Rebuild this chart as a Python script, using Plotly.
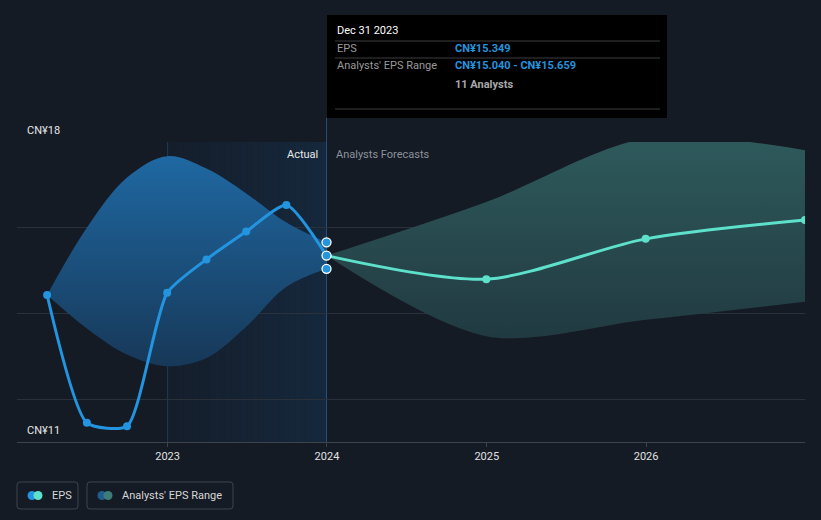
import datetime as dt
import plotly.graph_objects as go

# ---------------- data ----------------
actual_dates = ["2022-03-31", "2022-06-30", "2022-09-30", "2022-12-31",
                "2023-03-31", "2023-06-30", "2023-09-30", "2023-12-31"]
actual_eps = [14.43, 11.45, 11.37, 14.48, 15.26, 15.91, 16.53, 15.349]
past_range_high = [14.43, 16.00, 17.17, 17.67, 17.38, 16.80, 16.12, 15.659]
past_range_low = [14.43, 13.65, 13.04, 12.77, 12.96, 13.69, 14.62, 15.040]

forecast_dates = ["2023-12-31", "2024-12-31", "2025-12-31", "2026-12-31"]
forecast_eps = [15.349, 14.80, 15.74, 16.18]
forecast_high = [15.349, 16.60, 18.08, 17.81]
forecast_low = [15.349, 13.47, 13.85, 14.27]

now_date = "2023-12-31"
now_range = [15.659, 15.349, 15.040]

tick_vals = ["2023-01-01", "2024-01-01", "2025-01-01", "2026-01-01"]
tick_text = ["2023", "2024", "2025", "2026"]
y_labels = {18: "CN¥18", 11: "CN¥11"}

# ---------------- layout helpers ----------------
W, H = 821, 520
ML, MR, MT, MB = 17, 16, 142, 78
PW, PH = W - ML - MR, H - MT - MB


def px(x):
    return (x - ML) / PW


def py(y):
    return (H - MB - y) / PH


BG = "#151b25"
BLUE = "#2394df"
TEAL = "#5de1cb"
FONT = "Roboto"

fig = go.Figure()

# past range band
fig.add_trace(go.Scatter(x=actual_dates, y=past_range_high, mode="lines",
                         line=dict(width=0, shape="spline", smoothing=1.0),
                         hoverinfo="skip", showlegend=False))
fig.add_trace(go.Scatter(x=actual_dates, y=past_range_low, mode="lines",
                         line=dict(width=0, shape="spline", smoothing=1.0),
                         fill="tonexty",
                         fillgradient=dict(type="vertical",
                                           colorscale=[[0, "#173858"], [1, "#1f68a2"]]),
                         hoverinfo="skip", showlegend=False))
# forecast range band
fig.add_trace(go.Scatter(x=forecast_dates, y=forecast_high, mode="lines",
                         line=dict(width=0, shape="spline", smoothing=0.9),
                         hoverinfo="skip", showlegend=False))
fig.add_trace(go.Scatter(x=forecast_dates, y=forecast_low, mode="lines",
                         line=dict(width=0, shape="spline", smoothing=0.9),
                         fill="tonexty",
                         fillgradient=dict(type="vertical",
                                           colorscale=[[0, "#213a41"], [1, "#2e5a5c"]]),
                         hoverinfo="skip", showlegend=False))

# EPS actual line
fig.add_trace(go.Scatter(x=actual_dates, y=actual_eps, mode="lines",
                         line=dict(color=BLUE, width=3, shape="spline", smoothing=0.6),
                         showlegend=False))
fig.add_trace(go.Scatter(x=actual_dates[:-1], y=actual_eps[:-1], mode="markers",
                         marker=dict(color=BLUE, size=8),
                         showlegend=False))
# forecast line
fig.add_trace(go.Scatter(x=forecast_dates, y=forecast_eps, mode="lines",
                         line=dict(color=TEAL, width=3, shape="spline", smoothing=0.8),
                         showlegend=False))
fig.add_trace(go.Scatter(x=forecast_dates[1:], y=forecast_eps[1:], mode="markers",
                         marker=dict(color=TEAL, size=8), cliponaxis=True,
                         showlegend=False))
# current markers
fig.add_trace(go.Scatter(x=[now_date] * len(now_range), y=now_range, mode="markers",
                         marker=dict(color=BLUE, size=9, line=dict(color="white", width=1.3)),
                         cliponaxis=False, showlegend=False))

shapes = []
# highlight of last actual year (gradient strips)
d0 = dt.date(2023, 1, 1)
d1 = dt.date(2024, 1, 1)
n = 30
span = (d1 - d0).days
for i in range(n):
    a = d0 + dt.timedelta(days=span * i / n)
    b = d0 + dt.timedelta(days=span * (i + 1) / n)
    alpha = 0.06 + 0.15 * (i / (n - 1))
    shapes.append(dict(type="rect", xref="x", yref="paper", x0=a.isoformat(), x1=b.isoformat(),
                       y0=0, y1=1, fillcolor=f"rgba(26,90,150,{alpha:.3f})",
                       line=dict(width=0), layer="below"))
shapes.append(dict(type="line", xref="x", yref="paper", x0="2023-01-01", x1="2023-01-01",
                   y0=0, y1=1, line=dict(color="rgba(40,95,150,0.45)", width=1), layer="below"))
# vertical now line reaching tooltip
shapes.append(dict(type="line", xref="x", yref="paper", x0=now_date, x1=now_date,
                   y0=0, y1=py(118), line=dict(color="rgba(45,95,150,0.75)", width=1), layer="below"))

# tooltip box
shapes.append(dict(type="rect", xref="paper", yref="paper", x0=px(327), x1=px(667),
                   y0=py(118), y1=py(15), fillcolor="#000000", line=dict(width=0), layer="above"))
for yy in (41, 58, 109):
    shapes.append(dict(type="line", xref="paper", yref="paper", x0=px(335), x1=px(660),
                       y0=py(yy), y1=py(yy), line=dict(color="#3c3c3c", width=1), layer="above"))


def rounded_rect(x0, y0, x1, y1, rad):
    def P(x, y):
        return f"{px(x):.5f},{py(y):.5f}"
    return (f"M {P(x0 + rad, y0)} L {P(x1 - rad, y0)} Q {P(x1, y0)} {P(x1, y0 + rad)} "
            f"L {P(x1, y1 - rad)} Q {P(x1, y1)} {P(x1 - rad, y1)} "
            f"L {P(x0 + rad, y1)} Q {P(x0, y1)} {P(x0, y1 - rad)} "
            f"L {P(x0, y0 + rad)} Q {P(x0, y0)} {P(x0 + rad, y0)} Z")


# legend boxes
for (x0, x1) in ((17, 78), (87, 233)):
    shapes.append(dict(type="path", xref="paper", yref="paper",
                       path=rounded_rect(x0, 482, x1, 509, 3),
                       line=dict(color="#3f454d", width=1), fillcolor="rgba(0,0,0,0)"))
r = 4.5
for cx, col in ((32, "#2394df"), (38, "#5de1cb"), (102, "#1f5e8e"), (108, "#3c7d78")):
    shapes.append(dict(type="circle", xref="paper", yref="paper",
                       x0=px(cx - r), x1=px(cx + r), y0=py(495.5 + r), y1=py(495.5 - r),
                       fillcolor=col, line=dict(width=0)))

annotations = []
for val, txt in y_labels.items():
    annotations.append(dict(xref="paper", yref="y", x=px(25), y=val, text=txt,
                            xanchor="left", yanchor="bottom", yshift=3, showarrow=False,
                            font=dict(family=FONT, size=11, color="#e6e6e6")))
annotations.append(dict(xref="x", yref="paper", x=now_date, y=1, text="Actual",
                        xanchor="right", yanchor="top", xshift=-7, yshift=-4, showarrow=False,
                        font=dict(family=FONT, size=11, color="#e8e8e8")))
annotations.append(dict(xref="x", yref="paper", x=now_date, y=1, text="Analysts Forecasts",
                        xanchor="left", yanchor="top", xshift=7, yshift=-4, showarrow=False,
                        font=dict(family=FONT, size=11, color="#8b929b")))
# tooltip text
tt = [
    (335, 31, "Dec 31 2023", "#ffffff"),
    (335, 49, "EPS", "#9a9a9a"),
    (453, 49, "<b>CN¥15.349</b>", BLUE),
    (335, 66, "Analysts' EPS Range", "#9a9a9a"),
    (453, 66, "<b>CN¥15.040 - CN¥15.659</b>", BLUE),
    (453, 84, "<b>11 Analysts</b>", "#a8a8a8"),
]
for x, y, txt, col in tt:
    annotations.append(dict(xref="paper", yref="paper", x=px(x), y=py(y), text=txt,
                            xanchor="left", yanchor="middle", showarrow=False,
                            font=dict(family=FONT, size=11, color=col)))
# legend text
annotations.append(dict(xref="paper", yref="paper", x=px(50), y=py(495.5), text="EPS",
                        xanchor="left", yanchor="middle", showarrow=False,
                        font=dict(family=FONT, size=11, color="#d6d6d6")))
annotations.append(dict(xref="paper", yref="paper", x=px(120), y=py(495.5), text="Analysts' EPS Range",
                        xanchor="left", yanchor="middle", showarrow=False,
                        font=dict(family=FONT, size=11, color="#d6d6d6")))

fig.update_layout(
    width=W, height=H,
    margin=dict(l=ML, r=MR, t=MT, b=MB),
    paper_bgcolor=BG, plot_bgcolor=BG,
    font=dict(family=FONT, color="#d6d6d6", size=11),
    shapes=shapes, annotations=annotations,
    showlegend=False,
    xaxis=dict(type="date", range=["2022-01-21", "2026-12-31"],
               tickvals=tick_vals, ticktext=tick_text,
               showgrid=False, zeroline=False,
               showline=True, linecolor="#3d434b", linewidth=1,
               ticks="outside", ticklen=4, tickcolor="#3d434b",
               tickfont=dict(family=FONT, size=11, color="#e0e0e0"),
               fixedrange=True),
    yaxis=dict(range=[11, 18], tickvals=[12, 14, 16, 18], showticklabels=False,
               showgrid=True, gridcolor="#2a313b", gridwidth=1,
               zeroline=False, showline=False, ticks="", fixedrange=True),
    hovermode=False,
)

fig.write_html(
    "out.html",
    config={"displayModeBar": False, "staticPlot": True},
    post_script=("document.body.style.margin='0';document.body.style.padding='0';"
                 "document.body.style.background='" + BG + "';"
                 "document.body.style.overflow='hidden';"),
)
